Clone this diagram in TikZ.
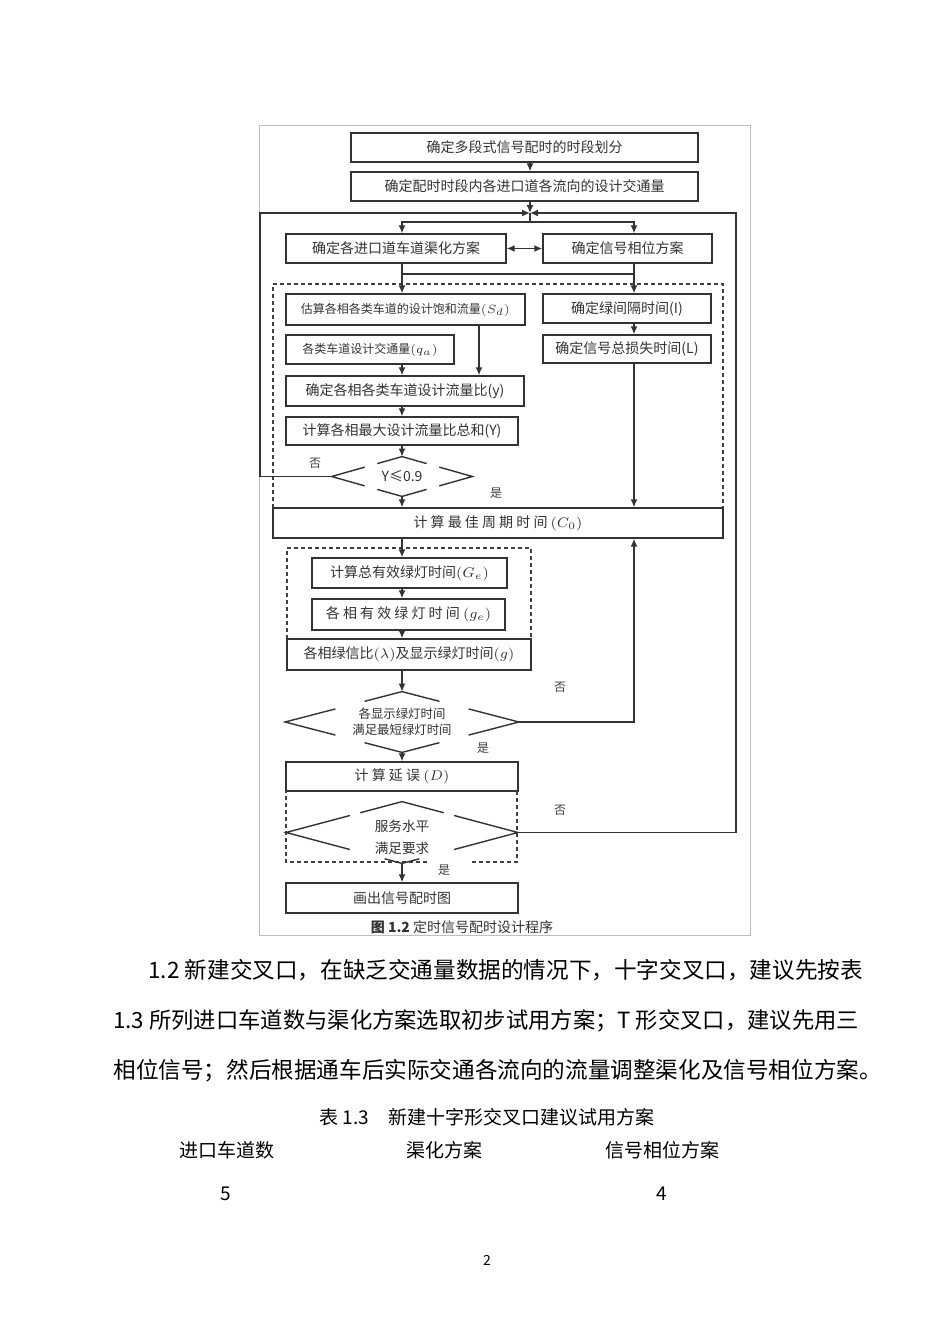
\documentclass[tikz,border=0pt]{standalone}
\usepackage[no-math]{fontspec}
\setmainfont{Noto Sans CJK SC}
\usetikzlibrary{arrows.meta}
\usetikzlibrary{positioning}
\usetikzlibrary{shapes.geometric, calc}

\begin{document}
\begin{tikzpicture}[x=0.5pt,y=-0.5pt,
box/.style={draw=black!80,line width=0.7pt,inner sep=0pt,font=\fontsize{7}{8}\selectfont,text=black!80},
wire/.style={draw=black!80,line width=0.7pt},
arr/.style={wire,-{Latex[length=4pt,width=3.5pt]}},
arrboth/.style={wire,{Latex[length=4pt,width=3.5pt]}-{Latex[length=4pt,width=3.5pt]}},
dashbox/.style={draw=black!75,line width=0.7pt,dash pattern=on 2pt off 1.5pt},
dia/.style={diamond,aspect=3.6,inner sep=0pt,align=center,text=black!80,font=\fontsize{7}{8}\selectfont},
lbl/.style={font=\fontsize{6}{7}\selectfont,text=black!75},
body/.style={font=\fontsize{11.3}{13}\selectfont,anchor=west,inner sep=0pt},
tab/.style={font=\fontsize{9.5}{11}\selectfont,inner sep=0pt}]
\path[use as bounding box,fill=white] (0,0) rectangle (950,1344);
\draw[black!25,line width=0.5pt] (259,125) rectangle (750,935);

\coordinate (j) at (530,213);
\coordinate (split) at (530,222);
\coordinate (lc) at (402,274);
\coordinate (rc) at (634,274);
\coordinate (lt) at (260,213);
\coordinate (rt) at (736,213);
\coordinate (sx) at (479,330);

\node[box,minimum width=173.5pt,minimum height=14.5pt] (seg) at (524.5,147.5) {确定多段式信号配时的时段划分};
\node[box,minimum width=173.5pt,minimum height=14.5pt] (vol) at (524.5,186.5) {确定配时时段内各进口道各流向的设计交通量\hspace{20pt}};
\node[box,minimum width=110pt,minimum height=14.5pt] (chan) at (396,248.5) {确定各进口道车道渠化方案};
\node[box,minimum width=84.5pt,minimum height=14.5pt] (phase) at (627.5,248.5) {确定信号相位方案};

\draw[dashbox] (273,508) -- (273,284) -- (723,284) -- (723,508);
\node[box,minimum width=119.5pt,minimum height=15.5pt,font=\fontsize{6}{7}\selectfont] (sat) at (405.5,309.5) {估算各相各类车道的设计饱和流量$(S_d)$};
\node[box,minimum width=84pt,minimum height=14.5pt] (inter) at (627,308.5) {确定绿间隔时间(I)};
\node[box,minimum width=84pt,minimum height=14.5pt,font=\fontsize{6}{7}\selectfont] (lane) at (370,349.5) {各类车道设计交通量$(q_a)$};
\node[box,minimum width=84pt,minimum height=14pt] (loss) at (627,349) {确定信号总损失时间(L)\hspace{7pt}};
\node[box,minimum width=119pt,minimum height=15pt] (ratio) at (405,391) {确定各相各类车道设计流量比\textit{(y)}\hspace{11pt}};
\node[box,minimum width=116pt,minimum height=14pt] (sum) at (402,431) {计算各相最大设计流量比总和(Y)};
\node[dia,minimum width=70pt,minimum height=19.5pt] (chk) at (402,476.5) {Y≤0.9};
\node[box,minimum width=225pt,minimum height=15pt] (cyc) at (498,523) {计 算 最 佳 周 期 时 间 $(C_0)$};

\draw[dashbox] (287,639) -- (287,548) -- (531,548) -- (531,639);
\node[box,minimum width=97.5pt,minimum height=15pt] (tot) at (409.5,573) {计算总有效绿灯时间$(G_e)$};
\node[box,minimum width=96.5pt,minimum height=15.5pt] (eff) at (408.5,614.5) {各 相 有 效 绿 灯 时 间 $(g_e)$};
\node[box,minimum width=122pt,minimum height=15.5pt] (green) at (409,654.5) {各相绿信比$(\lambda)$及显示绿灯时间$(g)$};
\node[dia,minimum width=116.5pt,minimum height=30pt,font=\fontsize{6.2}{8}\selectfont] (mingr) at (402,722) {各显示绿灯时间\\满足最短绿灯时间};

\node[box,minimum width=116pt,minimum height=14.5pt] (delay) at (402,776.5) {计 算 延 误 $(D)$};
\draw[dashbox] (427,862) -- (286,862) -- (286,791);
\draw[dashbox] (472,862) -- (517,862) -- (517,791);
\node[dia,minimum width=115.5pt,minimum height=30.5pt] (los) at (402,832.5) {};
\node[font=\fontsize{6.8}{11}\selectfont,align=center,text=black!80,inner sep=0pt] (lostext) at ($(los)+(0,4.5)$) {服务水平\\满足要求};
\node[box,minimum width=116pt,minimum height=15pt] (chart) at (402,898) {画出信号配时图};
\node[font=\fontsize{7}{8}\selectfont,text=black!80] (figcap) at (462,927) {\textbf{图 1.2} 定时信号配时设计程序};

\node[lbl] (no1) at (315,463) {否};
\node[lbl] (yes1) at (496,493) {是};
\node[lbl] (no2) at (560,687) {否};
\node[lbl] (yes2) at (483,748) {是};
\node[lbl] (no3) at (560,810) {否};
\node[lbl] (yes3) at (444,870) {是};

\foreach \d/\s/\t/\b in {chk/0.47/0.35/0.35, mingr/0.43/0.32/0.32, los/0.55/0.36/0.15}{
  \draw[wire] ($(\d.west)!\s!(\d.north)$) -- (\d.west) -- ($(\d.west)!\s!(\d.south)$);
  \draw[wire] ($(\d.east)!\s!(\d.north)$) -- (\d.east) -- ($(\d.east)!\s!(\d.south)$);
  \draw[wire] ($(\d.north)!\t!(\d.west)$) -- (\d.north) -- ($(\d.north)!\t!(\d.east)$);
  \draw[wire] ($(\d.south)!\b!(\d.west)$) -- (\d.south) -- ($(\d.south)!\b!(\d.east)$);
}

\draw[arr] (seg.south -| j) -- (vol.north -| j);
\draw[arr] (vol.south -| j) -- (j);
\draw[wire] (j) -- (split);
\draw[arr] (split) -| (chan.north -| lc);
\draw[arr] (split) -| (phase.north -| rc);
\draw[arrboth] (chan.east) -- (phase.west);
\draw[wire] (chan.south -| lc) -- (lc) -- (rc) -- (phase.south -| rc);
\draw[arr] (lc) -- (sat.north -| lc);
\draw[arr] (rc) -- (inter.north -| rc);
\draw[arr] (inter.south -| rc) -- (loss.north -| rc);
\draw[arr] (lane.south -| lc) -- (ratio.north -| lc);
\draw[arr] (sat.south -| sx) -- (ratio.north -| sx);
\draw[arr] (ratio.south -| lc) -- (sum.north -| lc);
\draw[arr] (sum.south -| lc) -- (chk.north);
\draw[arr] (chk.south) -- (cyc.north -| lc);
\draw[arr] (loss.south -| rc) -- (cyc.north -| rc);
\draw[arr] (chk.west) -| (lt) -- (j);
\draw[arr] (cyc.south -| lc) -- (tot.north -| lc);
\draw[arr] (tot.south -| lc) -- (eff.north -| lc);
\draw[arr] (eff.south -| lc) -- (green.north -| lc);
\draw[arr] (green.south -| lc) -- (mingr.north);
\draw[arr] (mingr.east) -| (cyc.south -| rc);
\draw[arr] (mingr.south) -- (delay.north -| lc);
\draw[arr] (los.south) -- (chart.north -| lc);
\draw[arr] (los.east) -| (rt) -- (j);

\node[body] (p1) at (148,970) {1.2 新建交叉口，在缺乏交通量数据的情况下，十字交叉口，建议先按表};
\node[body,font=\fontsize{11.15}{13}\selectfont] (p2) at (113,1021) {1.3 所列进口车道数与渠化方案选取初步试用方案；T 形交叉口，建议先用三};
\node[body] (p3) at (113,1071) {相位信号；然后根据通车后实际交通各流向的流量调整渠化及信号相位方案。};

\node[tab] (tcap) at (487,1117) {表 1.3　新建十字形交叉口建议试用方案};
\node[tab] (h1) at (227,1150) {进口车道数};
\node[tab] (h2) at (444,1150) {渠化方案};
\node[tab] (h3) at (662,1150) {信号相位方案};
\node[tab] (v1) at (226,1194) {5};
\node[tab] (v3) at (662,1194) {4};
\node[font=\fontsize{7}{8}\selectfont] (pg) at (487,1260) {2};

\end{tikzpicture}
\end{document}
